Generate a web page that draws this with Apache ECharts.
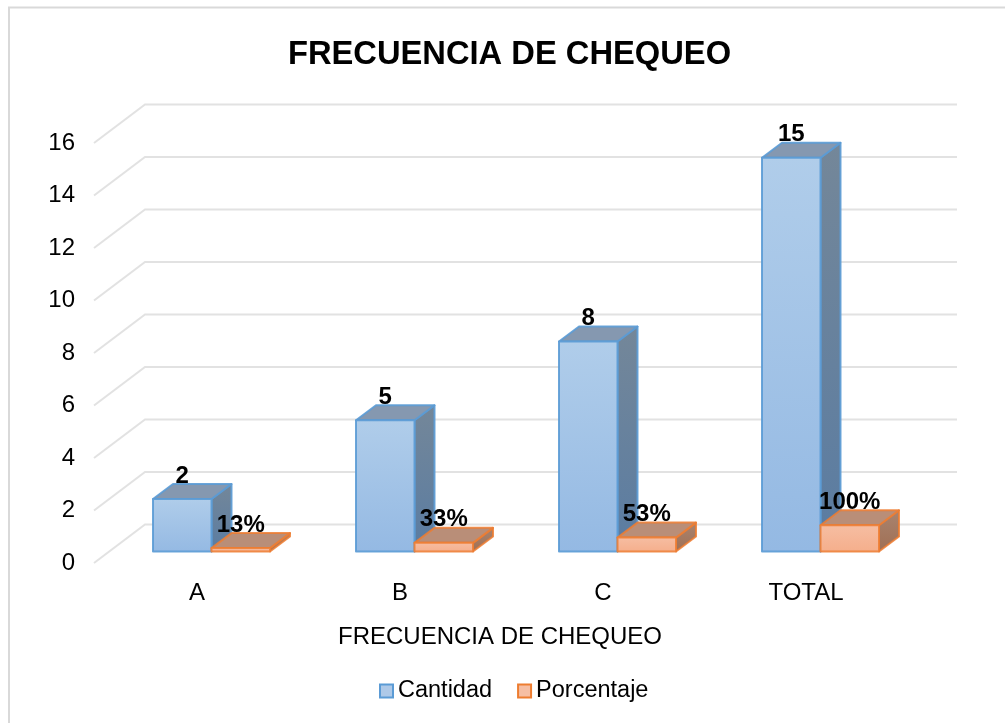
<!DOCTYPE html>
<html>
<head>
<meta charset="utf-8">
<style>html,body{margin:0;padding:0;background:#fff}#c{width:1005px;height:723px}</style>
<script src="https://cdn.jsdelivr.net/npm/echarts@6/dist/echarts.min.js"></script>
</head>
<body>
<div id="c"></div>
<script>
const categories = ['A', 'B', 'C', 'TOTAL'];
const cantidad = [2, 5, 8, 15];
const porcentaje = [0.13, 0.33, 0.53, 1];
const cantidadLabels = ['2', '5', '8', '15'];
const porcentajeLabels = ['13%', '33%', '53%', '100%'];
const yTicks = [0, 2, 4, 6, 8, 10, 12, 14, 16];

const FONT = '"Liberation Sans", Arial, sans-serif';
const WALL_DX = 51, WALL_DY = 38.5;      // depth of the whole plot box
const BAR_DX = 20, BAR_DY = 15;          // depth of a bar
const OFF_X = 16, OFF_Y = 11.5;          // bar front plane, from the box front
const BAR_W = 58.5;

const blue = {
  border: 'rgba(91,155,213,0.9)',
  front: ['#b0cdea', '#94b9e3'],
  top: '#8598b0',
  side: ['#748799', '#5a7ca2']
};
const orange = {
  border: 'rgba(237,125,49,0.85)',
  front: ['#f6bea3', '#f5ae8b'],
  top: '#b98e78',
  side: ['#a98470', '#a06f53']
};

function grad(c) {
  return { type: 'linear', x: 0, y: 0, x2: 0, y2: 1,
    colorStops: [{ offset: 0, color: c[0] }, { offset: 1, color: c[1] }] };
}

function barRenderer(col, labels, side) {
  return function (params, api) {
    const top = api.coord([api.value(0), api.value(1)]);
    const base = api.coord([api.value(0), 0]);
    const cx = top[0] + OFF_X;
    const x0 = side < 0 ? cx - BAR_W : cx;
    const x1 = x0 + BAR_W;
    const yT = top[1] - OFF_Y, yB = base[1] - OFF_Y;
    const stroke = { stroke: col.border, lineWidth: 2, lineJoin: 'round' };
    const poly = (points, fill) => ({
      type: 'polygon', shape: { points },
      style: Object.assign({ fill }, stroke)
    });
    return {
      type: 'group',
      children: [
        poly([[x1, yT], [x1 + BAR_DX, yT - BAR_DY], [x1 + BAR_DX, yB - BAR_DY], [x1, yB]], grad(col.side)),
        poly([[x0, yT], [x1, yT], [x1 + BAR_DX, yT - BAR_DY], [x0 + BAR_DX, yT - BAR_DY]], col.top),
        poly([[x0, yT], [x1, yT], [x1, yB], [x0, yB]], grad(col.front)),
        {
          type: 'text',
          style: {
            x: x0 + BAR_W / 2, y: yT - 23, text: labels[params.dataIndex],
            fill: '#000', font: 'bold 24px ' + FONT,
            align: 'center', verticalAlign: 'middle'
          },
          z2: 10
        }
      ]
    };
  };
}

const chart = echarts.init(document.getElementById('c'), null, { renderer: 'canvas' });
chart.setOption({
  animation: false,
  backgroundColor: '#fff',
  title: {
    text: 'FRECUENCIA DE CHEQUEO', left: 504.5, top: 33, textAlign: 'center',
    textStyle: { fontFamily: FONT, fontWeight: 'bold', fontSize: 32.7, color: '#000' }
  },
  graphic: [{
    type: 'polyline', silent: true, z: -1,
    shape: { points: [[9, 723], [9, 7.5], [1005, 7.5]] },
    style: { fill: 'none', stroke: '#d9d9d9', lineWidth: 2 }
  }],
  grid: { left: 94, right: 99, top: 143, bottom: 160 },
  legend: {
    left: 374, top: 674, itemWidth: 13, itemHeight: 13, itemGap: 25,
    textStyle: { fontFamily: FONT, fontSize: 23.5, color: '#000', padding: [0, 0, 0, 0] },
    data: [
      { name: 'Cantidad', icon: 'rect', itemStyle: { color: '#aec9e8', borderColor: '#5b9bd5', borderWidth: 2 } },
      { name: 'Porcentaje', icon: 'rect', itemStyle: { color: '#f6bea3', borderColor: '#ed7d31', borderWidth: 2 } }
    ]
  },
  xAxis: {
    type: 'category', data: categories,
    axisLine: { show: false }, axisTick: { show: false }, splitLine: { show: false },
    axisLabel: { fontFamily: FONT, fontSize: 24, color: '#000', margin: 18, padding: [0, 0, 0, 3] },
    name: 'FRECUENCIA DE CHEQUEO', nameLocation: 'middle', nameGap: 62,
    nameTextStyle: { fontFamily: FONT, fontSize: 24, color: '#000' }
  },
  yAxis: {
    type: 'value', min: 0, max: 16, interval: 2,
    axisLine: { show: false }, axisTick: { show: false }, splitLine: { show: false },
    axisLabel: { fontFamily: FONT, fontSize: 24, color: '#000', margin: 19, padding: [2, 0, 0, 0] }
  },
  series: [
    {
      type: 'custom', name: 'wall', silent: true, z: 1,
      data: yTicks.map(v => [0, v]),
      encode: { x: 0, y: 1 },
      renderItem: function (params, api) {
        const y = api.coord([0, api.value(1)])[1];
        const cs = params.coordSys;
        return {
          type: 'polyline',
          shape: { points: [[cs.x, y], [cs.x + WALL_DX, y - WALL_DY], [cs.x + cs.width + WALL_DX, y - WALL_DY]] },
          style: { fill: 'none', stroke: '#e2e2e2', lineWidth: 2 }
        };
      }
    },
    {
      type: 'custom', name: 'Cantidad', z: 2,
      data: cantidad.map((v, i) => [i, v]),
      encode: { x: 0, y: 1 },
      renderItem: barRenderer(blue, cantidadLabels, -1)
    },
    {
      type: 'custom', name: 'Porcentaje', z: 3,
      data: porcentaje.map((v, i) => [i, v]),
      encode: { x: 0, y: 1 },
      renderItem: barRenderer(orange, porcentajeLabels, 1)
    }
  ]
});
</script>
</body>
</html>
